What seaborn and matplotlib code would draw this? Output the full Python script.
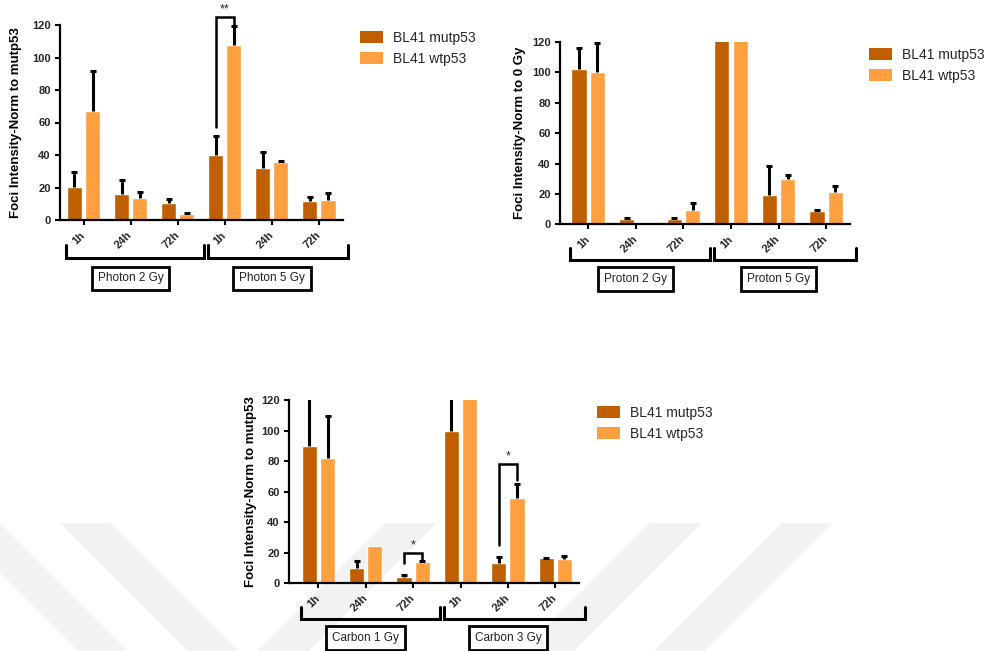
import numpy as np
import pandas as pd
import matplotlib
matplotlib.use("Agg")
import matplotlib.pyplot as plt
import matplotlib.transforms as mtransforms
from matplotlib.patches import Patch, Polygon
import seaborn as sns

# --- data ---
times = ["1h", "24h", "72h"]
lines = ["BL41 mutp53", "BL41 wtp53"]
colors = ["#C05F00", "#FFA040"]

photon_doses = ["Photon 2 Gy", "Photon 5 Gy"]
photon_mut = [20.1, 16.2, 10.3, 40.0, 32.2, 11.9]
photon_mut_err = [9.2, 8.2, 2.4, 11.7, 9.4, 2.5]
photon_wt = [67.1, 13.7, 3.9, 107.7, 35.5, 12.3]
photon_wt_err = [24.6, 3.5, 0.4, 11.7, 0.8, 4.1]

proton_doses = ["Proton 2 Gy", "Proton 5 Gy"]
proton_mut = [102.0, 3.3, 3.3, 135.0, 19.1, 8.8]
proton_mut_err = [13.8, 0.7, 0.7, np.nan, 19.5, 0.3]
proton_wt = [100.5, 0.0, 9.4, 140.0, 29.8, 21.1]
proton_wt_err = [19.1, np.nan, 4.9, np.nan, 2.7, 4.3]

carbon_doses = ["Carbon 1 Gy", "Carbon 3 Gy"]
carbon_mut = [89.8, 9.8, 4.2, 99.9, 13.3, 16.4]
carbon_mut_err = [35.0, 5.1, 1.0, 30.0, 4.0, 0.3]
carbon_wt = [82.2, 24.7, 14.2, 135.0, 56.2, 15.7]
carbon_wt_err = [27.7, np.nan, 0.3, np.nan, 8.9, 2.4]

# significance: (group index, label, left leg bottom, bracket top, right leg bottom)
photon_sig = [(3, "**", 57, 124.7, 120)]
carbon_sig = [(2, "*", 13, 19.7, 14.6), (4, "*", 25, 78.3, 67.8)]

sns.set_theme(style="ticks")
plt.rcParams["font.family"] = ["Liberation Sans", "DejaVu Sans"]

W, H = 996, 651
fig = plt.figure(figsize=(W / 100, H / 100), dpi=100)
fig.patch.set_facecolor("white")


def px_axes(x0, x1, ytop, ybot):
    # axes rectangle given in pixel coords of the target image
    return fig.add_axes([x0 / W, 1 - ybot / H, (x1 - x0) / W, (ybot - ytop) / H])


# faint watermark stripes in the lower part of the page
for xa, xb, d in [(-50, 0, 1), (60, 110, 1), (385, 437, -1), (650, 702, -1), (782, 833, -1)]:
    pts = [(xa, 523), (xb, 523), (xb + d * 140, 663), (xa + d * 140, 663)]
    fig.add_artist(Polygon([(x / W, 1 - y / H) for x, y in pts], closed=True,
                           transform=fig.transFigure, fc="#F2F2F2", ec="none", zorder=-1))


def draw_panel(ax, doses, mut, mut_err, wt, wt_err, ylabel, xlo, sig, leg_xy, ylab_x):
    cond = [f"{d} {t}" for d in doses for t in times]
    df = pd.DataFrame({
        "cond": cond * 2,
        "line": [lines[0]] * len(cond) + [lines[1]] * len(cond),
        "value": list(mut) + list(wt),
    })
    sns.barplot(data=df, x="cond", y="value", hue="line", order=cond, hue_order=lines,
                palette=colors, width=0.77, gap=0.17, errorbar=None, legend=False,
                saturation=1, ax=ax)
    ax.set_facecolor("none")

    # upward-only error bars with caps
    centers = []
    for cont, errs in zip(ax.containers, [mut_err, wt_err]):
        xs = np.array([p.get_x() + p.get_width() / 2 for p in cont])
        hs = np.array([p.get_height() for p in cont])
        centers.append(xs)
        e = np.array(errs, dtype=float)
        ok = ~np.isnan(e)
        _, caps, _ = ax.errorbar(xs[ok], hs[ok], yerr=[np.zeros(ok.sum()), e[ok]], fmt="none",
                                 ecolor="black", elinewidth=2.2, capsize=1.9, capthick=2.2,
                                 zorder=3)
        caps[0].set_visible(False)

    ax.set_ylim(0, 120)
    ax.set_xlim(xlo, 5.5)
    ax.set_yticks(range(0, 121, 20))
    ax.set_xticks(range(6))
    ax.set_xticklabels(times * 2, rotation=45, ha="right", va="center",
                       rotation_mode="anchor", fontweight="bold", fontsize=8)
    for lbl in ax.get_yticklabels():
        lbl.set_fontweight("bold")
        lbl.set_fontsize(8)
    ax.tick_params(axis="both", direction="out", length=3.6, width=1.5, color="black")
    ax.tick_params(axis="y", pad=3)
    ax.tick_params(axis="x", pad=6)
    sns.despine(ax=ax)
    for s in ["left", "bottom"]:
        ax.spines[s].set_linewidth(1.6)
        ax.spines[s].set_color("black")
    ax.set_xlabel("")
    ax.set_ylabel(ylabel, fontsize=9.5, fontweight="bold", color="black")
    ax.yaxis.set_label_coords(ylab_x, 0.5)

    # dose group brackets and boxed labels under the axis
    trans = mtransforms.blended_transform_factory(ax.transData, ax.transAxes)
    for g, (a, b) in enumerate([(-0.37, 2.56), (2.65, 5.62)]):
        ax.plot([a, a, b, b], [-0.128, -0.197, -0.197, -0.128], transform=trans,
                color="black", lw=2.2, clip_on=False, solid_joinstyle="miter")
        ax.text(g * 3 + 1, -0.30, doses[g], transform=trans, ha="center", va="center",
                fontsize=8.5, color="#222222",
                bbox=dict(boxstyle="square,pad=0.5", fc="white", ec="black", lw=2.0))

    # significance brackets
    for i, txt, yl, ytop, yr in sig:
        xl, xr = centers[0][i], centers[1][i]
        ax.plot([xl, xl, xr, xr], [yl, ytop, ytop, yr], color="black", lw=1.8,
                clip_on=False, solid_joinstyle="miter")
        ax.text((xl + xr) / 2, ytop + 1.0, txt, ha="center", va="bottom", fontsize=9,
                clip_on=False)

    handles = [Patch(fc=c, ec="none") for c in colors]
    ax.legend(handles, lines, loc="upper left", bbox_to_anchor=leg_xy,
              bbox_transform=fig.transFigure, frameon=False, fontsize=10,
              handlelength=1.65, handleheight=0.95, handletextpad=0.75,
              labelspacing=0.5, borderpad=0, borderaxespad=0)


ax1 = px_axes(60, 342.5, 25, 220)
draw_panel(ax1, photon_doses, photon_mut, photon_mut_err, photon_wt, photon_wt_err,
           "Foci Intensity-Norm to mutp53", -0.5, photon_sig, (360 / W, 1 - 31 / H), -0.133)

ax2 = px_axes(560, 850, 42, 224.3)
draw_panel(ax2, proton_doses, proton_mut, proton_mut_err, proton_wt, proton_wt_err,
           "Foci Intensity-Norm to 0 Gy", -0.59, [], (869 / W, 1 - 48 / H), -0.116)

ax3 = px_axes(289, 579, 400.3, 583.3)
draw_panel(ax3, carbon_doses, carbon_mut, carbon_mut_err, carbon_wt, carbon_wt_err,
           "Foci Intensity-Norm to mutp53", -0.62, carbon_sig, (597 / W, 1 - 406 / H), -0.112)

fig.savefig("out.png", dpi=100)
